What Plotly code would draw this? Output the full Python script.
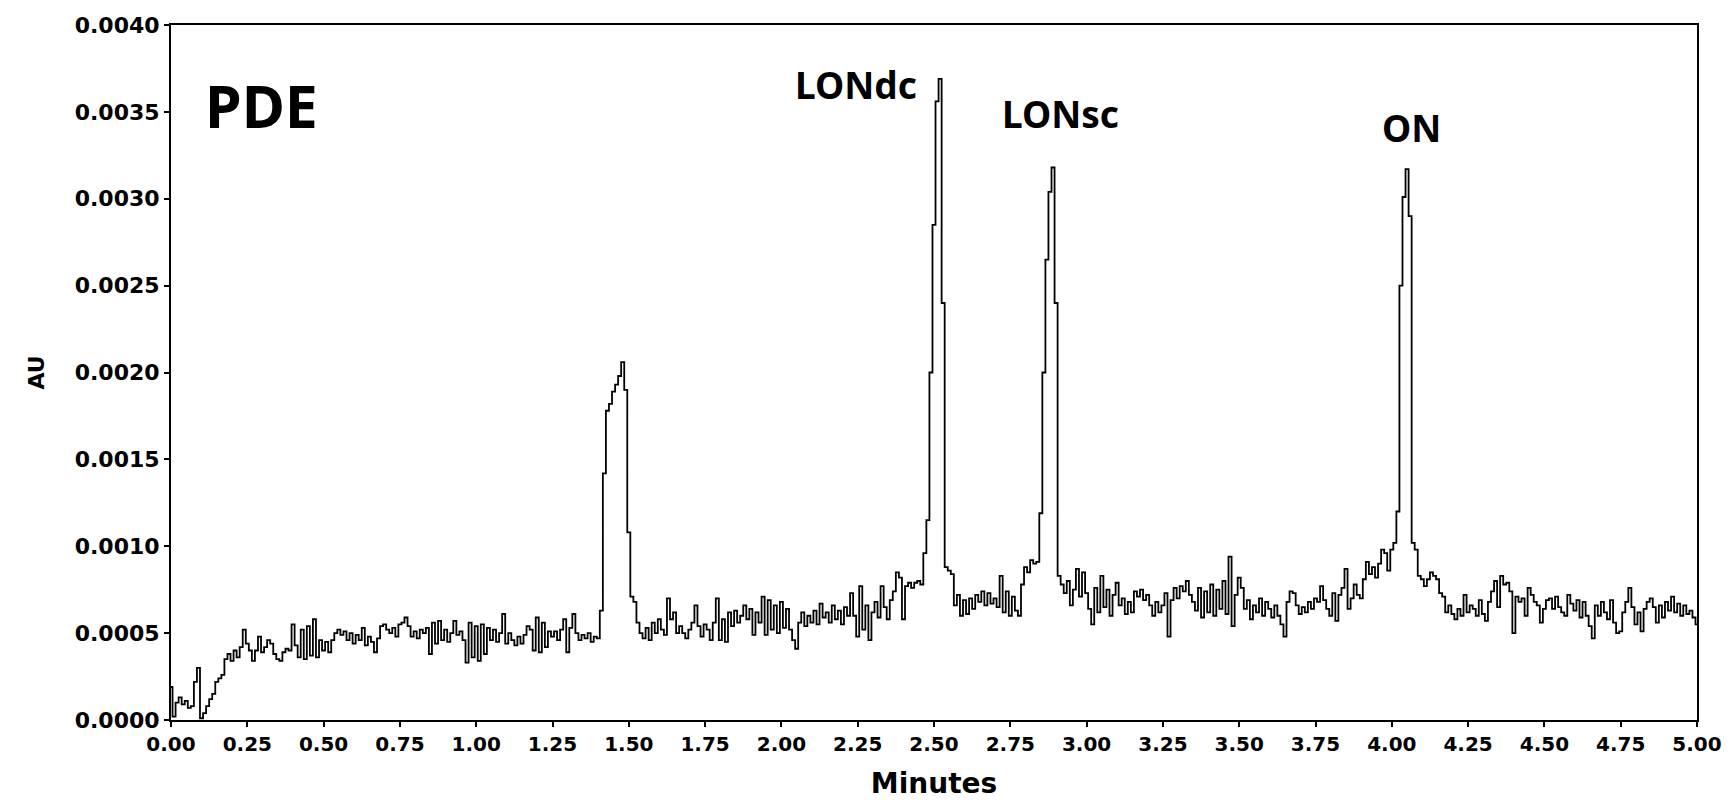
import numpy as np
import plotly.graph_objects as go

# Retention time grid (minutes), 0.00 .. 5.00 step 0.01
minutes = [round(i * 0.01, 2) for i in range(501)]

# Absorbance, in units of 1e-4 AU (one row = 0.10 min)
au_e4 = [
    1.9, 0.2, 1.0, 1.3, 0.9, 1.1, 0.7, 0.8, 2.2, 3.0,
    0.1, 0.4, 0.8, 1.2, 1.5, 2.2, 2.4, 2.6, 3.5, 3.8,
    3.4, 4.0, 3.6, 4.2, 5.2, 4.4, 4.0, 3.4, 4.0, 4.8,
    3.9, 4.2, 4.6, 4.4, 3.8, 3.5, 3.4, 3.9, 4.1, 4.0,
    5.5, 4.3, 3.6, 5.2, 3.5, 5.4, 3.7, 5.8, 3.6, 4.6,
    4.0, 4.5, 3.9, 4.6, 5.0, 5.2, 4.9, 5.1, 4.6, 5.0,
    4.4, 4.9, 4.6, 5.3, 4.3, 4.8, 4.5, 3.9, 4.7, 5.4,
    5.5, 5.2, 5.0, 5.3, 4.8, 5.5, 5.6, 5.9, 5.4, 4.8,
    5.1, 4.7, 5.2, 5.0, 5.3, 3.8, 5.6, 4.4, 5.7, 4.6,
    5.2, 4.5, 5.0, 5.7, 4.9, 5.1, 4.6, 3.3, 5.6, 3.6,
    5.4, 3.4, 5.5, 3.8, 5.3, 4.6, 5.2, 4.5, 5.0, 6.1,
    4.4, 5.0, 4.6, 4.3, 4.8, 4.4, 4.9, 5.4, 5.2, 4.0,
    5.9, 3.9, 5.6, 4.2, 5.1, 4.8, 5.1, 4.6, 5.2, 5.8,
    3.9, 5.3, 6.1, 5.0, 4.6, 4.9, 4.7, 5.0, 4.5, 4.8,
    4.7, 6.3, 14.2, 17.8, 18.2, 18.9, 19.3, 19.8, 20.6, 19.0,
    10.8, 7.1, 6.8, 5.6, 5.0, 4.7, 5.3, 4.6, 5.6, 5.0,
    5.8, 5.2, 4.9, 7.0, 5.8, 6.2, 5.0, 5.4, 5.0, 4.7,
    5.2, 5.6, 6.6, 5.4, 4.8, 5.5, 5.2, 4.6, 5.6, 7.0,
    4.6, 5.8, 4.5, 6.2, 5.4, 6.3, 5.6, 6.0, 6.6, 5.8,
    6.4, 4.9, 6.2, 5.6, 7.1, 4.9, 6.9, 5.2, 6.6, 5.0,
    6.8, 5.3, 6.4, 5.2, 4.6, 4.1, 5.6, 6.2, 5.4, 6.0,
    5.6, 6.3, 5.5, 6.7, 5.9, 6.2, 5.6, 6.6, 5.8, 6.3,
    5.5, 6.5, 6.0, 7.3, 6.0, 4.8, 7.7, 5.2, 6.6, 4.6,
    6.2, 6.8, 5.9, 7.7, 6.5, 5.8, 6.9, 7.4, 8.5, 8.2,
    5.8, 7.7, 7.9, 7.6, 7.9, 8.0, 7.8, 9.6, 11.5, 20.0,
    28.5, 35.6, 36.9, 24.0, 8.8, 8.6, 8.4, 6.6, 7.2, 6.0,
    6.9, 6.1, 7.0, 6.4, 7.2, 6.8, 7.4, 6.6, 7.3, 6.7,
    7.0, 6.5, 8.3, 6.2, 7.4, 6.0, 7.1, 6.3, 6.0, 7.8,
    8.8, 8.5, 9.2, 9.0, 9.1, 11.9, 20.0, 26.5, 30.4, 31.8,
    24.0, 8.3, 7.8, 7.3, 8.0, 6.6, 7.5, 8.7, 7.1, 8.5,
    7.3, 6.4, 5.5, 7.6, 6.2, 8.3, 6.5, 7.5, 6.0, 7.2,
    7.9, 6.6, 7.0, 6.1, 6.8, 6.2, 7.4, 7.1, 7.5, 6.9,
    7.2, 6.6, 6.0, 6.8, 6.2, 6.6, 7.3, 4.8, 6.9, 7.6,
    7.0, 7.7, 7.4, 8.0, 7.2, 6.8, 6.3, 7.6, 5.9, 7.4,
    6.2, 7.8, 6.0, 7.5, 6.4, 8.0, 6.1, 9.4, 5.4, 7.2,
    8.2, 7.6, 6.4, 6.9, 5.8, 6.6, 6.2, 7.0, 6.0, 6.8,
    6.4, 5.9, 6.6, 6.0, 5.5, 4.8, 6.8, 7.4, 7.3, 6.6,
    6.1, 6.5, 6.2, 6.8, 6.4, 7.0, 6.8, 7.7, 6.9, 6.4,
    6.0, 7.3, 5.7, 7.2, 7.6, 8.7, 6.4, 7.0, 7.8, 7.2,
    7.0, 8.1, 9.1, 8.4, 8.8, 8.2, 9.0, 9.8, 9.6, 8.6,
    9.8, 10.2, 12.0, 25.0, 30.1, 31.7, 29.0, 10.2, 9.8, 8.3,
    8.1, 7.7, 8.1, 8.5, 8.3, 8.1, 7.3, 7.1, 6.2, 6.6,
    6.1, 5.8, 6.4, 6.0, 7.2, 6.2, 6.6, 6.4, 6.0, 6.9,
    6.1, 5.7, 6.8, 7.4, 8.0, 6.5, 8.3, 7.8, 7.9, 7.4,
    5.0, 7.1, 6.8, 7.0, 6.0, 7.6, 7.2, 6.8, 6.6, 5.6,
    6.4, 6.9, 7.0, 6.4, 7.1, 6.5, 6.2, 6.0, 7.2, 6.7,
    6.3, 6.9, 5.9, 6.8, 6.0, 5.4, 4.7, 6.6, 6.0, 6.8,
    6.2, 5.8, 6.9, 5.6, 5.0, 5.1, 6.2, 6.8, 7.6, 6.5,
    5.5, 6.2, 5.1, 6.4, 6.8, 7.0, 6.5, 5.6, 6.6, 5.9,
    6.8, 6.3, 7.1, 6.2, 6.7, 6.0, 6.6, 6.1, 6.3, 5.9,
    5.5,
]
au = np.array(au_e4) * 1e-4  # unit conversion to AU

x_ticks = [round(0.25 * i, 2) for i in range(21)]
y_ticks = [round(0.0005 * i, 4) for i in range(9)]

peak_labels = ["LONdc", "LONsc", "ON"]
peak_label_x = [2.245, 2.916, 4.066]
peak_label_y = [0.00366, 0.00349, 0.00341]

fig = go.Figure()
fig.add_trace(go.Scatter(
    x=minutes, y=au, mode="lines",
    line=dict(color="black", width=1.8, shape="hvh"),
    showlegend=False, hoverinfo="skip",
))

ann_font = dict(family="Noto Sans", size=37, color="black", weight="bold")
for lab, lx, ly in zip(peak_labels, peak_label_x, peak_label_y):
    fig.add_annotation(x=lx, y=ly, xref="x", yref="y", text=lab, showarrow=False,
                       xanchor="center", yanchor="middle", font=ann_font)
fig.add_annotation(x=0.295, y=0.00354, xref="x", yref="y", text="PDE", showarrow=False,
                   xanchor="center", yanchor="middle",
                   font=dict(family="Noto Sans", size=59, color="black", weight="bold"))

fig.update_layout(
    width=1724, height=792,
    margin=dict(l=163, r=35, t=17, b=80),
    plot_bgcolor="white", paper_bgcolor="white",
    xaxis=dict(
        range=[0, 5], tickvals=x_ticks, tickformat=".2f", automargin=False,
        showline=True, linecolor="black", linewidth=2, mirror=True,
        ticks="outside", ticklen=5, tickwidth=1.5, tickcolor="black",
        showgrid=False, zeroline=False,
        tickfont=dict(family="DejaVu Sans", size=20, color="black", weight="bold"),
        title=dict(text="Minutes", standoff=19,
                   font=dict(family="DejaVu Sans", size=28, color="black", weight="bold")),
    ),
    yaxis=dict(
        range=[0, 0.004], tickvals=y_ticks, tickformat=".4f", automargin=False,
        showline=True, linecolor="black", linewidth=2, mirror=True,
        ticks="outside", ticklen=5, tickwidth=1.5, tickcolor="black",
        showgrid=False, zeroline=False,
        tickfont=dict(family="DejaVu Sans", size=22, color="black", weight="bold"),
        title=dict(text="AU", standoff=24,
                   font=dict(family="DejaVu Sans", size=22, color="black", weight="bold")),
    ),
)

fig.write_html("out.html")
